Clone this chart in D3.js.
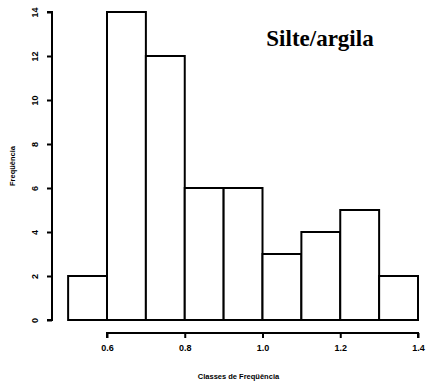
<!DOCTYPE html>
<html>
<head>
<meta charset="utf-8">
<script src="https://cdn.jsdelivr.net/npm/d3@7"></script>
<style>
  body { margin: 0; background: #fff; }
  text { font-family: "Liberation Sans", Arial, sans-serif; font-weight: bold; }
</style>
</head>
<body>
<svg id="chart"></svg>
<script>
// histogram bins (class edges) and counts
const binStarts = [0.5, 0.6, 0.7, 0.8, 0.9, 1.0, 1.1, 1.2, 1.3];
const binWidth = 0.1;
const counts = [2, 14, 12, 6, 6, 3, 4, 5, 2];
const xTicks = [0.6, 0.8, 1.0, 1.2, 1.4];
const yTicks = [0, 2, 4, 6, 8, 10, 12, 14];

const width = 427, height = 387;

const svg = d3.select("#chart")
    .attr("width", width)
    .attr("height", height);

// scales
const x = d3.scaleLinear().domain([0.6, 1.4]).range([107, 418]);
const y = d3.scaleLinear().domain([0, 14]).range([320, 12]);

// bars
svg.selectAll("rect.bar")
    .data(counts)
    .join("rect")
    .attr("class", "bar")
    .attr("x", (_, i) => x(binStarts[i]))
    .attr("y", d => y(d))
    .attr("width", (_, i) => x(binStarts[i] + binWidth) - x(binStarts[i]))
    .attr("height", d => y(0) - y(d))
    .attr("fill", "#fff")
    .attr("stroke", "#000")
    .attr("stroke-width", 2);

// x axis
const xAxis = svg.append("g")
    .attr("transform", "translate(0,333)")
    .call(d3.axisBottom(x).tickValues(xTicks).tickFormat(d3.format(".1f")).tickSize(5).tickPadding(7));
xAxis.select(".domain").attr("stroke-width", 2).attr("d", `M${x(0.6)},5V0H${x(1.4)}V5`);
xAxis.selectAll(".tick line").attr("stroke-width", 2);
xAxis.selectAll("text").attr("font-size", 9).attr("font-family", "Liberation Sans, Arial").attr("font-weight", "bold");

// y axis
const yAxis = svg.append("g")
    .attr("transform", "translate(52,0)")
    .call(d3.axisLeft(y).tickValues(yTicks).tickSize(5).tickPadding(6));
yAxis.select(".domain").attr("stroke-width", 2).attr("d", `M-5,${y(0)}H0V${y(14)}H-5`);
yAxis.selectAll(".tick line").attr("stroke-width", 2);
yAxis.selectAll("text")
    .attr("font-size", 9)
    .attr("font-family", "Liberation Sans, Arial")
    .attr("font-weight", "bold")
    .attr("text-anchor", "middle")
    .attr("dy", null)
    .attr("transform", "translate(-14,0) rotate(-90)")
    .attr("x", 0)
    .attr("y", 0);

// axis titles
svg.append("text")
    .attr("x", (x(0.6) + x(1.4)) / 2 - 24)
    .attr("y", 379)
    .attr("text-anchor", "middle")
    .attr("font-size", 7.5)
    .text("Classes de Freqüência");

svg.append("text")
    .attr("transform", `translate(15,${y(7)}) rotate(-90)`)
    .attr("text-anchor", "middle")
    .attr("font-size", 7.5)
    .text("Freqüência");

// panel label
svg.append("text")
    .attr("x", 320)
    .attr("y", 46)
    .attr("text-anchor", "middle")
    .attr("font-size", 23)
    .style("font-family", "'Liberation Serif', serif")
    .text("Silte/argila");
</script>
</body>
</html>
